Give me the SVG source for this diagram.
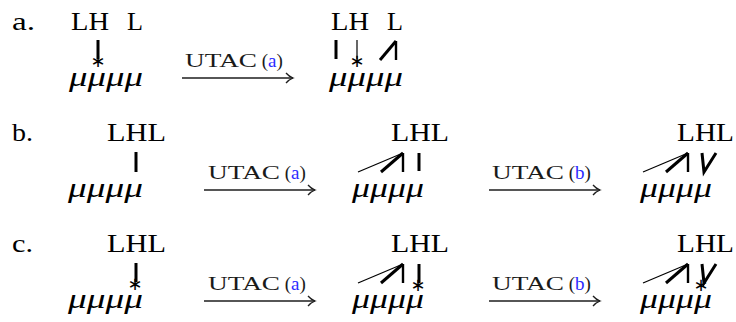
<svg xmlns="http://www.w3.org/2000/svg" width="736" height="322" viewBox="0 0 736 322">
<style>
.t{font-family:"Liberation Serif","Times New Roman",serif;font-size:25px;fill:#000}
.m{font-family:"Liberation Serif","Times New Roman",serif;font-style:italic;font-size:27px;fill:#000}
.u{font-family:"Liberation Serif","Times New Roman",serif;font-size:19px;fill:#1a1a1a}
.b{fill:#2b2bff}
.ast{font-family:"DejaVu Sans",sans-serif;font-size:18px;fill:#000;text-anchor:middle}
.k{stroke:#000;stroke-width:3;fill:none}
.v{stroke:#000;stroke-width:2.4;fill:none}
.n{stroke:#000;stroke-width:1.2;fill:none}
.ar{stroke:#1e1e1e;stroke-width:1.3;fill:none}
</style>
<defs>
<g id="arrowA"><path d="M0,0H111"/><path d="M104,-5Q107,-1.5 111,0Q107,1.5 104,5"/></g>
<g id="spread"><path class="n" d="M0,0L45,-19"/><path class="k" d="M23,0L45,-19"/><path class="v" d="M45,-19V0"/></g>
</defs>

<g id="labels">
<text class="t" x="12" y="30" textLength="23" lengthAdjust="spacingAndGlyphs">a.</text>
<text class="t" x="12" y="141" textLength="21" lengthAdjust="spacingAndGlyphs">b.</text>
<text class="t" x="12" y="252" textLength="21" lengthAdjust="spacingAndGlyphs">c.</text>
</g>

<g id="a-left">
<text class="t" x="71" y="30" textLength="38" lengthAdjust="spacingAndGlyphs">LH</text>
<text class="t" x="127" y="30" textLength="16" lengthAdjust="spacingAndGlyphs">L</text>
<path class="k" d="M98,40V59"/>
<text class="ast" x="98" y="66.5">∗</text>
<text class="m" x="69" y="86" textLength="74" lengthAdjust="spacingAndGlyphs">μμμμ</text>
</g>
<g id="a-right">
<text class="t" x="331" y="30" textLength="38" lengthAdjust="spacingAndGlyphs">LH</text>
<text class="t" x="387" y="30" textLength="16" lengthAdjust="spacingAndGlyphs">L</text>
<path class="k" d="M336,40V59"/>
<path class="n" d="M357,40V59"/>
<text class="ast" x="357" y="66.5">∗</text>
<path class="k" d="M380,60L396,41"/>
<path class="v" d="M396,41V60"/>
<text class="m" x="329" y="86" textLength="74" lengthAdjust="spacingAndGlyphs">μμμμ</text>
</g>

<g id="b-left">
<text class="t" x="107" y="141" textLength="59" lengthAdjust="spacingAndGlyphs">LHL</text>
<path class="k" d="M136,152V172"/>
<text class="m" x="68" y="197" textLength="75" lengthAdjust="spacingAndGlyphs">μμμμ</text>
</g>
<g id="b-mid">
<text class="t" x="391" y="141" textLength="58" lengthAdjust="spacingAndGlyphs">LHL</text>
<use href="#spread" x="358" y="172"/>
<path class="k" d="M419,153V171"/>
<text class="m" x="352" y="197" textLength="72" lengthAdjust="spacingAndGlyphs">μμμμ</text>
</g>
<g id="b-right">
<text class="t" x="677" y="141" textLength="57" lengthAdjust="spacingAndGlyphs">LHL</text>
<use href="#spread" x="643" y="172"/>
<path class="k" d="M702,153L704,172L716,153"/>
<text class="m" x="640" y="197" textLength="72" lengthAdjust="spacingAndGlyphs">μμμμ</text>
</g>

<g id="c-left">
<text class="t" x="107" y="252" textLength="59" lengthAdjust="spacingAndGlyphs">LHL</text>
<path class="k" d="M136,263V282"/>
<text class="ast" x="135" y="290">∗</text>
<text class="m" x="68" y="308" textLength="75" lengthAdjust="spacingAndGlyphs">μμμμ</text>
</g>
<g id="c-mid">
<text class="t" x="391" y="252" textLength="58" lengthAdjust="spacingAndGlyphs">LHL</text>
<use href="#spread" x="358" y="283"/>
<path class="k" d="M419,264V283"/>
<text class="ast" x="418" y="291">∗</text>
<text class="m" x="352" y="308" textLength="72" lengthAdjust="spacingAndGlyphs">μμμμ</text>
</g>
<g id="c-right">
<text class="t" x="677" y="252" textLength="57" lengthAdjust="spacingAndGlyphs">LHL</text>
<use href="#spread" x="643" y="283"/>
<path class="k" d="M702,264L704,283L716,264"/>
<text class="ast" x="701" y="291">∗</text>
<text class="m" x="640" y="308" textLength="72" lengthAdjust="spacingAndGlyphs">μμμμ</text>
</g>

<g id="connectors" class="ar">
<use href="#arrowA" x="182" y="78"/>
<use href="#arrowA" x="204" y="190"/>
<use href="#arrowA" x="489" y="190"/>
<use href="#arrowA" x="204" y="301"/>
<use href="#arrowA" x="489" y="301"/>
</g>

<g id="arrow-labels">
<text class="u" x="185" y="67"><tspan textLength="72" lengthAdjust="spacingAndGlyphs">UTAC</tspan> (<tspan class="b">a</tspan>)</text>
<text class="u" x="208" y="179"><tspan textLength="72" lengthAdjust="spacingAndGlyphs">UTAC</tspan> (<tspan class="b">a</tspan>)</text>
<text class="u" x="492" y="179"><tspan textLength="72" lengthAdjust="spacingAndGlyphs">UTAC</tspan> (<tspan class="b">b</tspan>)</text>
<text class="u" x="208" y="290"><tspan textLength="72" lengthAdjust="spacingAndGlyphs">UTAC</tspan> (<tspan class="b">a</tspan>)</text>
<text class="u" x="492" y="290"><tspan textLength="72" lengthAdjust="spacingAndGlyphs">UTAC</tspan> (<tspan class="b">b</tspan>)</text>
</g>
</svg>
